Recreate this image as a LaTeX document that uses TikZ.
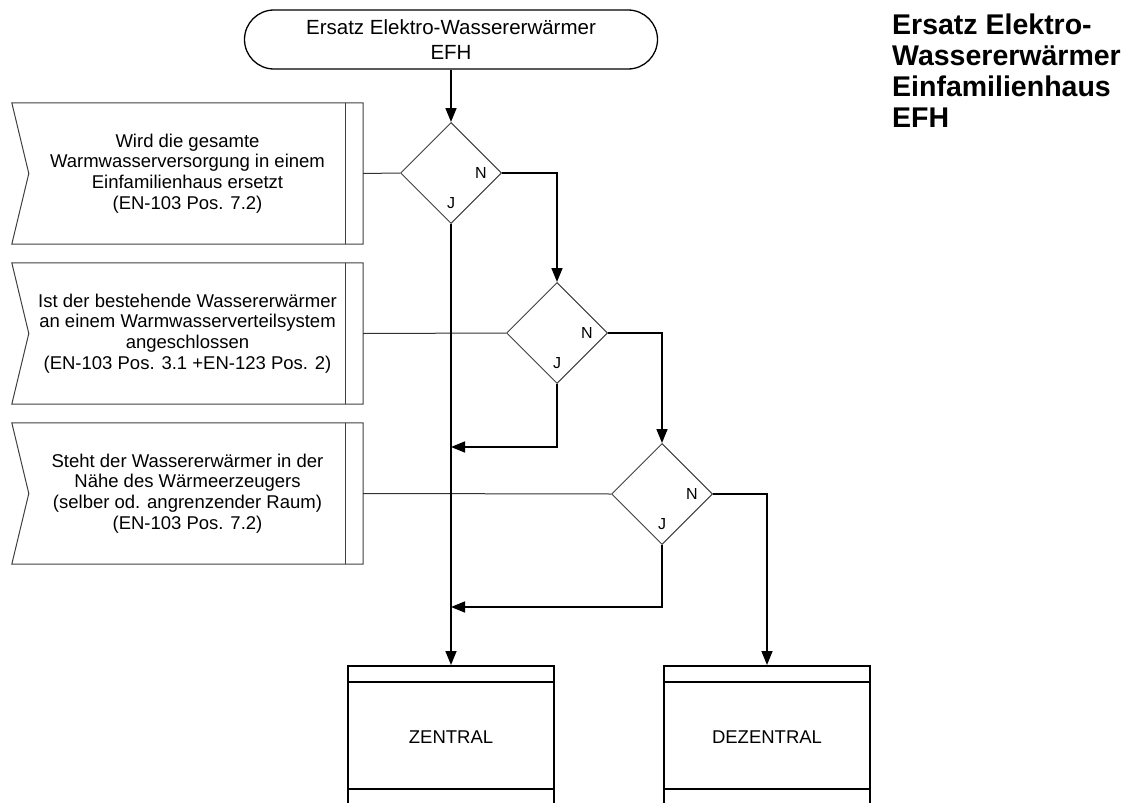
\documentclass[tikz,border=0pt]{standalone}
\usepackage{fontspec}
\setmainfont{Liberation Sans}
\usetikzlibrary{shapes.geometric,arrows.meta,calc}
\tikzset{
 flow/.style={line width=1.6pt, -{Triangle[length=14pt,width=11pt]}},
 thinlink/.style={line width=1pt, draw=black!80},
 outline/.style={line width=1pt, draw=black!75},
 decision/.style={diamond, draw=black!75, line width=1pt, minimum width=101pt, minimum height=101pt, inner sep=0pt},
 callout/.style={minimum width=351pt, minimum height=141pt, inner sep=0pt, align=center, font=\fontsize{18.5}{20.7}\selectfont},
 procbox/.style={draw, line width=1.8pt, minimum width=206pt, minimum height=142pt, inner sep=0pt, font=\fontsize{18.5}{22}\selectfont},
 band/.style={line width=1.8pt},
 lbl/.style={font=\fontsize{16}{18}\selectfont, inner sep=0pt},
 terminal/.style={draw, line width=1.3pt, rounded corners=29.5pt, minimum width=413pt, minimum height=59pt, align=center, inner sep=0pt, font=\fontsize{20.5}{25}\selectfont},
}
\begin{document}
\begin{tikzpicture}[x=1pt,y=-1pt]
\clip (0,0) rectangle (1136,803);
\fill[white] (0,0) rectangle (1136,803);

% start
\node[terminal] (start) at (451,39.5) {Ersatz Elektro-Wassererwärmer\\EFH};

% decisions
\node[decision] (d1) at (451,173) {};
\node[decision] (d2) at (557,333) {};
\node[decision] (d3) at (662,494) {};
\node[lbl] (n1) at ($(d1)+(30,0)$) {N};
\node[lbl] (j1) at ($(d1)+(0,30)$) {J};
\node[lbl] (n2) at ($(d2)+(30,0)$) {N};
\node[lbl] (j2l) at ($(d2)+(0,30)$) {J};
\node[lbl] (n3) at ($(d3)+(30,0)$) {N};
\node[lbl] (j3l) at ($(d3)+(0,30)$) {J};

% callouts
\node[callout] (c1) at (187.5,173.5) {Wird die gesamte\\Warmwasserversorgung in einem\\Einfamilienhaus ersetzt\\(EN-103 Pos. 7.2)};
\node[callout] (c2) at (187.5,333.5) {Ist der bestehende Wassererwärmer\\an einem Warmwasserverteilsystem\\angeschlossen\\(EN-103 Pos. 3.1 +EN-123 Pos. 2)};
\node[callout] (c3) at (187.5,493.5) {Steht der Wassererwärmer in der\\Nähe des Wärmeerzeugers\\(selber od. angrenzender Raum)\\(EN-103 Pos. 7.2)};
\foreach \c in {c1,c2,c3}{
  \draw[outline] (\c.north west) -- (\c.north east) -- (\c.south east) -- (\c.south west) -- ($(\c.west)+(17,0)$) -- cycle;
  \draw[outline] ($(\c.north east)+(-18,0)$) -- ($(\c.south east)+(-18,0)$);
}
\draw[thinlink] (c1.east) -- (d1.west);
\draw[thinlink] (c2.east) -- (d2.west);
\draw[thinlink] (c3.east) -- (d3.west);

% result boxes
\node[procbox, anchor=north] (z) at (451,665) {ZENTRAL};
\node[procbox, anchor=north] (dz) at (767,665) {DEZENTRAL};
\foreach \b in {z,dz}{
  \draw[band] ($(\b.north west)+(0,17)$) -- ($(\b.north east)+(0,17)$);
  \draw[band] ($(\b.north west)+(0,124)$) -- ($(\b.north east)+(0,124)$);
}

% flows
\coordinate (m2) at (451,447);
\coordinate (m3) at (451,607);
\draw[flow] (start.south) -- (d1.north);
\draw[flow] (d1.east) -| (d2.north);
\draw[flow] (d2.east) -| (d3.north);
\draw[flow] (d3.east) -| (dz.north);
\draw[flow] (d1.south) -- (z.north);
\draw[flow] (d2.south) |- (m2);
\draw[flow] (d3.south) |- (m3);

% title
\node[anchor=north west, align=left, inner sep=0pt, font=\bfseries\fontsize{28.5}{31}\selectfont] (title) at (892,14) {Ersatz Elektro-\\Wassererwärmer\\Einfamilienhaus\\EFH};
\end{tikzpicture}
\end{document}
